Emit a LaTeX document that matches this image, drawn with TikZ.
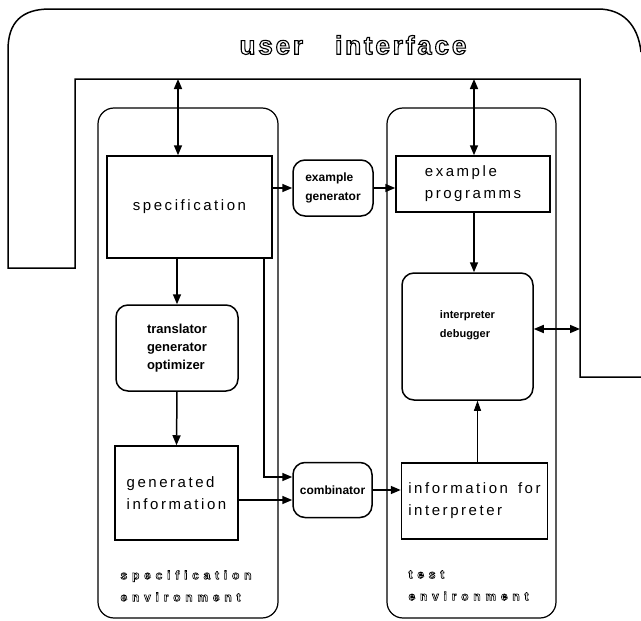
\documentclass[tikz,border=0pt]{standalone}
\usepackage{fontspec}
\setmainfont{Liberation Sans}
\usepackage{tikz}
\usetikzlibrary{arrows.meta}
\tikzset{
  line/.style={draw=black, line width=1.5pt},
  thinline/.style={draw=black, line width=0.9pt},
  box/.style={line, rectangle, inner sep=0pt},
  rbox/.style={box, rounded corners=12pt},
  env/.style={draw=black, line width=1.2pt, rounded corners=16pt, inner sep=0pt},
  arr/.style={line, -{Triangle[length=10pt,width=8pt]}},
  tarr/.style={thinline, -{Triangle[length=10pt,width=7pt]}},
  darr/.style={line, {Triangle[length=10pt,width=8pt]}-{Triangle[length=10pt,width=8pt]}},
  spaced/.style={font=\fontsize{15}{22}\selectfont\addfontfeatures{LetterSpace=17}},
  heavy/.style={font=\fontsize{13}{18}\selectfont\bfseries},
  small/.style={font=\fontsize{12}{19}\selectfont\bfseries},
  outl/.style={font=\fontsize{12}{22}\selectfont\bfseries\addfontfeatures{LetterSpace=40}},
  uitext/.style={font=\fontsize{26}{26}\selectfont\bfseries\addfontfeatures{LetterSpace=11}}
}
% hollow letters: stroke only text rendering mode
\newcommand{\outline}[2][0.6]{\special{pdf:literal direct #1 w 1 Tr}#2\special{pdf:literal direct 0 Tr}}

\begin{document}
\begin{tikzpicture}[x=1pt, y=-1pt]
  \useasboundingbox (0,0) rectangle (641,621);

  % user interface frame
  \draw[line] (641,377) -- (580,377) -- (580,79) -- (75,79) -- (75,268) -- (8,268)
    -- (8,50) .. controls (8,22) and (22,9) .. (50,9) -- (598,9)
    .. controls (622,9) and (638,24) .. (641,52);

  % environments
  \node[env, minimum width=180pt, minimum height=510pt] (specenv) at (188,363) {};
  \node[env, minimum width=169pt, minimum height=510pt] (testenv) at (471.5,363) {};

  % boxes
  \node[box, spaced, minimum width=165pt, minimum height=102pt] (spec) at (189.5,207) {specification};
  \node[rbox, heavy, align=left, minimum width=122pt, minimum height=86pt] (trans) at (177,348)
    {translator\\generator\\optimizer};
  \node[box, spaced, align=left, minimum width=123pt, minimum height=94pt] (gen) at (176.5,493)
    {generated\\information};
  \node[rbox, small, align=left, minimum width=80pt, minimum height=56pt] (exgen) at (333,188)
    {example\\generator};
  \node[rbox, small, minimum width=79pt, minimum height=55pt] (comb) at (332.5,490) {combinator};
  \node[box, spaced, align=left, minimum width=154pt, minimum height=56pt] (exprog) at (473,184)
    {example\\programms};
  \node[rbox, align=left, font=\fontsize{11}{19}\selectfont\bfseries,
        minimum width=131pt, minimum height=127pt] (interp) at (467.5,336.5)
    {interpreter\\debugger\\[6pt]};
  \node[box, spaced, align=left, minimum width=146pt, minimum height=76pt] (info) at (474.5,501)
    {information\hspace{10pt}for\\interpreter};

  % anchor points on the user interface
  \coordinate (uiL) at (178,79);
  \coordinate (uiR) at (474,79);
  \coordinate (uiE) at (580,329);

  % connectors
  \draw[darr] (uiL) -- (uiL |- spec.north);
  \draw[darr] (uiR) -- (uiR |- exprog.north);
  \draw[arr] (trans.north |- spec.south) -- (trans.north);
  \draw[arr] (trans.south) -- (gen.north);
  \draw[arr] (spec.east |- exgen.west) -- (exgen.west);
  \draw[arr] (exgen.east) -- (exgen.east -| exprog.west);
  \draw[arr] (uiR |- exprog.south) -- (uiR |- interp.north);
  \draw[darr] (interp.east |- uiE) -- (uiE);
  \draw[arr] ([xshift=-9pt]spec.south east) |- ([yshift=13pt]comb.west);
  \coordinate (c2) at ([yshift=-10pt]comb.west);
  \draw[arr] (gen.east |- c2) -- (c2);
  \draw[arr] (comb.east) -- (comb.east -| info.west);
  \draw[tarr] ([xshift=3pt]info.north) -- ([xshift=3pt]info.north |- interp.south);

  % hollow labels
  \node[uitext] (ui) at (353,45) {\outline[1.1]{user}\hspace{32pt}\outline[1.1]{interface}};
  \node[outl, align=left, anchor=north west] (speclbl) at (117,567)
    {\outline{specification}\\\outline{environment}};
  \node[outl, align=left, anchor=north west] (testlbl) at (405,567)
    {\outline{test}\\\outline{environment}};
\end{tikzpicture}
\end{document}
